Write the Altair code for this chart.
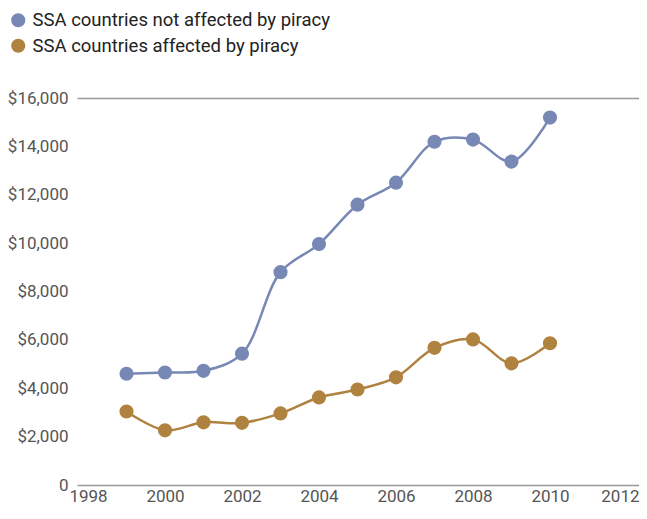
import altair as alt
import pandas as pd

years = [1999, 2000, 2001, 2002, 2003, 2004, 2005, 2006, 2007, 2008, 2009, 2010]
not_affected = [4600, 4650, 4720, 5430, 8800, 9960, 11590, 12500, 14190, 14280, 13370, 15190]
affected = [3040, 2260, 2590, 2570, 2960, 3620, 3950, 4450, 5670, 6020, 5030, 5860]
series_names = ["SSA countries not affected by piracy", "SSA countries affected by piracy"]
colors = ["#7788b5", "#b08240"]
x_ticks = [1998, 2000, 2002, 2004, 2006, 2008, 2010, 2012]
y_ticks = [0, 2000, 4000, 6000, 8000, 10000, 12000, 14000, 16000]

df = pd.DataFrame({
    "year": years * 2,
    "value": not_affected + affected,
    "series": [series_names[0]] * len(years) + [series_names[1]] * len(years),
})

FONT = "Roboto"

x = alt.X("year:Q",
          scale=alt.Scale(domain=[1997.714, 2012.312], nice=False, zero=False),
          axis=alt.Axis(values=x_ticks, format="d", title=None, ticks=False,
                        grid=False, domainColor="#999999", domainWidth=1.5,
                        labelColor="#555555", labelFontSize=17, labelPadding=3,
                        labelFont=FONT,
                        labelAlign={"condition": {"test": "datum.value === 2012", "value": "right"},
                                    "value": "center"},
                        labelOffset={"condition": {"test": "datum.value === 2012", "value": 12},
                                     "value": 0}))
y = alt.Y("value:Q",
          scale=alt.Scale(domain=[0, 16000], nice=False),
          axis=alt.Axis(values=y_ticks, title=None, ticks=False, domain=False,
                        labelExpr="datum.value == 0 ? '0' : '$' + format(datum.value, ',')",
                        labelColor="#555555", labelFontSize=17, labelPadding=9,
                        labelFont=FONT,
                        grid=True,
                        gridColor={"condition": {"test": "datum.value === 16000", "value": "#999999"},
                                   "value": "transparent"},
                        gridWidth=1.5))
cscale = alt.Scale(domain=series_names, range=colors)

base = alt.Chart(df)
lines = base.mark_line(interpolate="catmull-rom", strokeWidth=2.5).encode(
    x=x, y=y, color=alt.Color("series:N", scale=cscale, legend=None))
points = base.mark_circle(size=200, opacity=1).encode(
    x=x, y=y,
    color=alt.Color("series:N", scale=cscale,
                    legend=alt.Legend(title=None, orient="none", legendX=-68, legendY=-87,
                                      symbolType="circle", symbolSize=200, symbolOpacity=1,
                                      symbolStrokeWidth=0, labelLimit=0,
                                      labelFontSize=18.5, labelColor="#222222", labelFont=FONT,
                                      rowPadding=6.5, labelOffset=5)))

chart = alt.layer(lines, points).resolve_legend(color="independent").properties(
    width=562, height=387,
    autosize=alt.AutoSizeParams(type="none"),
    padding={"left": 69, "top": 90, "right": 0, "bottom": 26},
).configure_view(stroke=None)

chart.save("out.html", embed_options={"renderer": "svg", "actions": False})
